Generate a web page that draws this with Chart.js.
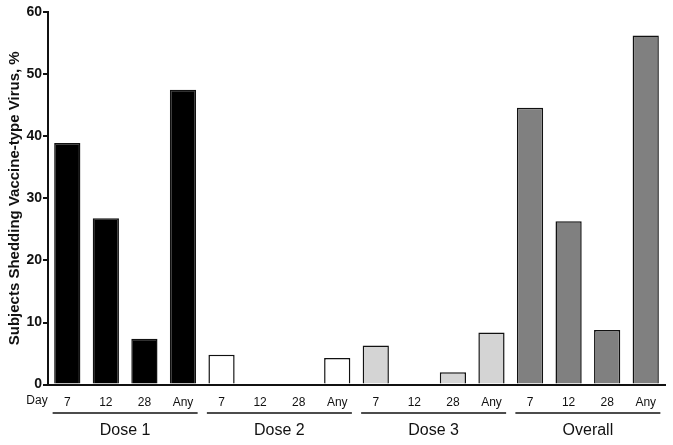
<!DOCTYPE html>
<html>
<head>
<meta charset="utf-8">
<script src="https://cdn.jsdelivr.net/npm/chart.js@4"></script>
<style>
  html, body { margin: 0; padding: 0; background: #fff; }
  #wrap { width: 673px; height: 445px; }
</style>
</head>
<body>
<div id="wrap"><canvas id="chart" width="673" height="445"></canvas></div>
<script>
// --- data ---
const days = ['7', '12', '28', 'Any'];
const groups = ['Dose 1', 'Dose 2', 'Dose 3', 'Overall'];
const dose1 = [38.9, 26.8, 7.4, 47.5];
const dose2 = [4.8, 0, 0, 4.3];
const dose3 = [6.3, 0, 2.0, 8.4];
const overall = [44.6, 26.3, 8.8, 56.2];
const groupColors = ['#000000', '#ffffff', '#d4d4d4', '#808080'];
const yTicks = [0, 10, 20, 30, 40, 50, 60];

const series = [dose1, dose2, dose3, overall];
const labels = [];
const values = [];
const colors = [];
series.forEach((s, g) => {
    s.forEach((v, i) => {
        labels.push(days[i]);
        values.push(v);
        colors.push(groupColors[g]);
    });
});

const FONT = '"Liberation Sans", Arial, sans-serif';

// group lines + names + "Day" under the x axis
const groupPlugin = {
    id: 'groupLabels',
    afterDraw(chart) {
        const ctx = chart.ctx;
        const x = chart.scales.x;
        const step = x.getPixelForValue(1) - x.getPixelForValue(0);
        ctx.save();
        ctx.strokeStyle = '#111';
        ctx.lineWidth = 1.5;
        ctx.fillStyle = '#111';
        ctx.font = '16px ' + FONT;
        ctx.textAlign = 'center';
        ctx.textBaseline = 'middle';
        groups.forEach((name, g) => {
            const first = x.getPixelForValue(g * days.length);
            const last = x.getPixelForValue(g * days.length + days.length - 1);
            const x0 = first - step * 0.38;
            const x1 = last + step * 0.38;
            ctx.beginPath();
            ctx.moveTo(x0, 413);
            ctx.lineTo(x1, 413);
            ctx.stroke();
            ctx.fillText(name, (x0 + x1) / 2, 431);
        });
        ctx.font = '12px ' + FONT;
        ctx.fillText('Day', 37, 401);
        ctx.restore();
    }
};

new Chart(document.getElementById('chart'), {
    type: 'bar',
    data: {
        labels: labels,
        datasets: [{
            data: values,
            backgroundColor: colors,
            borderColor: '#111',
            borderWidth: 1.5,
            borderSkipped: 'bottom',
            barPercentage: 0.68,
            categoryPercentage: 1.0
        }]
    },
    options: {
        responsive: false,
        animation: false,
        layout: { padding: { top: 12, right: 8, bottom: 24, left: 6 } },
        plugins: {
            legend: { display: false },
            tooltip: { enabled: false }
        },
        scales: {
            x: {
                grid: { display: false, drawTicks: false },
                border: { color: '#111', width: 2 },
                ticks: {
                    color: '#111',
                    font: { family: FONT, size: 12 },
                    padding: 11,
                    maxRotation: 0,
                    autoSkip: false
                }
            },
            y: {
                min: 0,
                max: 60,
                afterBuildTicks: (scale) => { scale.ticks = yTicks.map(v => ({ value: v })); },
                afterFit: (scale) => { scale.width = 42; },
                grid: { display: true, drawOnChartArea: false, drawTicks: true, tickLength: 5, color: '#111', lineWidth: 2 },
                border: { color: '#111', width: 2 },
                ticks: {
                    color: '#111',
                    font: { family: FONT, size: 14, weight: 'bold' },
                    padding: 1
                },
                title: {
                    display: true,
                    text: 'Subjects Shedding Vaccine-type Virus, %',
                    color: '#111',
                    font: { family: FONT, size: 15, weight: 'bold' },
                    padding: 0
                }
            }
        }
    },
    plugins: [groupPlugin]
});
</script>
</body>
</html>
